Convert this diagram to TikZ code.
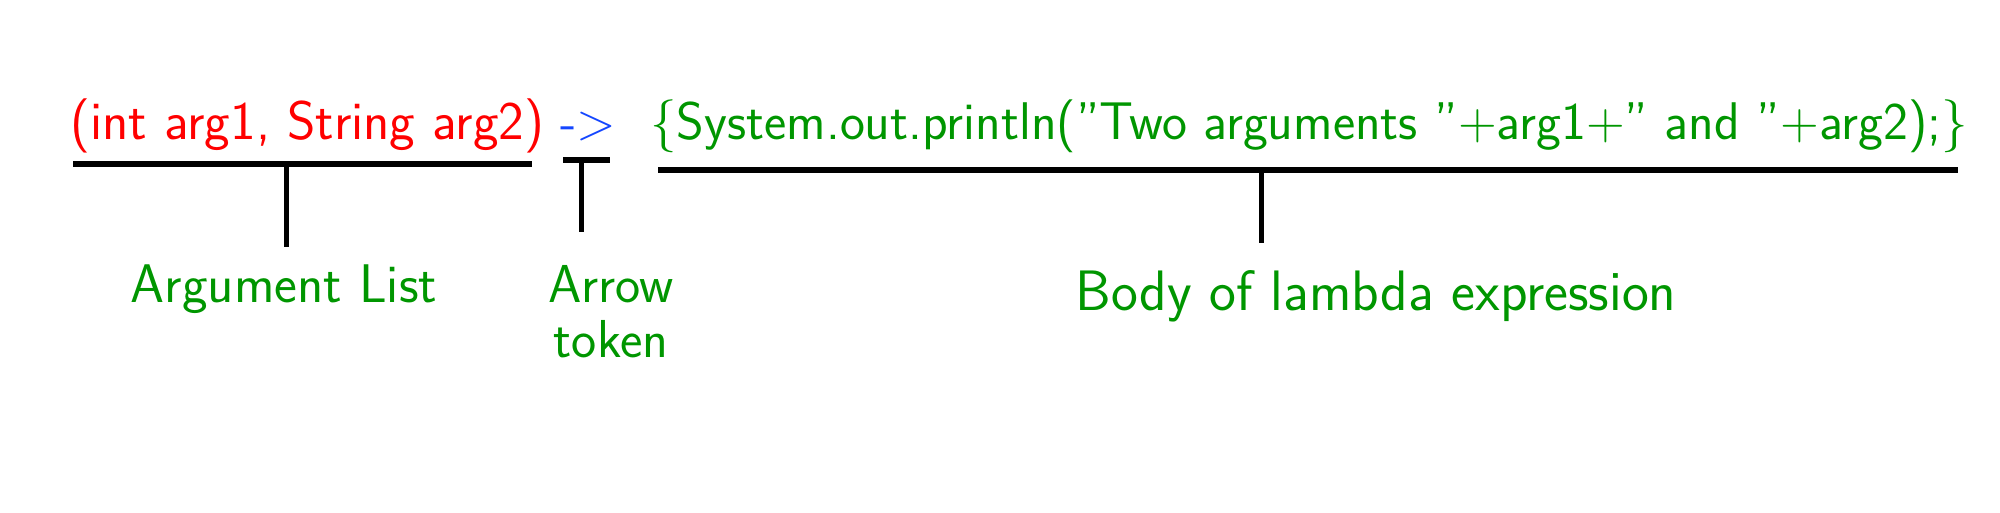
\documentclass[tikz,border=0pt]{standalone}
\usepackage{fontspec}
\usepackage{tikz}
\definecolor{argred}{RGB}{255,0,0}
\definecolor{tokenblue}{RGB}{20,70,255}
\definecolor{bodygreen}{RGB}{0,150,0}
\begin{document}
\begin{tikzpicture}[x=0.5pt, y=-0.5pt, codetext/.style={font=\sffamily\fontsize{#1}{30}\selectfont, inner sep=0pt, anchor=base west}, labeltext/.style={font=\sffamily\fontsize{#1}{27.5}\selectfont, text=bodygreen, inner sep=0pt, anchor=base, align=center}, underline/.style={line width=3pt}, stem/.style={line width=2.5pt}]
\useasboundingbox (0,0) rectangle (2000,513);
\node[codetext=27.2, text=argred] (args) at (70,140) {(int arg1, String arg2)};
\node[codetext=26, text=tokenblue] (token) at (560,140) {->};
\node[codetext=26.5, text=bodygreen] (body) at (650,140) {\{System.out.println(”Two arguments ”+arg1+” and ”+arg2);\}};
\node[labeltext=27.2] (arglabel) at (284,302) {Argument List};
\node[labeltext=26.7] (tokenlabel) at (611,357) {Arrow\\token};
\node[labeltext=28.5] (bodylabel) at (1376,310) {Body of lambda expression};
\coordinate (argleft) at (73,164);
\coordinate (argright) at (532,164);
\coordinate (argtop) at (286,164);
\coordinate (argfoot) at (286,247);
\coordinate (tokenleft) at (563,160);
\coordinate (tokenright) at (610,160);
\coordinate (tokentop) at (581,160);
\coordinate (tokenfoot) at (581,232);
\coordinate (bodyleft) at (658,170);
\coordinate (bodyright) at (1958,170);
\coordinate (bodytop) at (1261,170);
\coordinate (bodyfoot) at (1261,243);
\draw[underline] (argleft) -- (argright);
\draw[stem] (argtop) -- (argfoot);
\draw[underline] (tokenleft) -- (tokenright);
\draw[stem] (tokentop) -- (tokenfoot);
\draw[underline] (bodyleft) -- (bodyright);
\draw[stem] (bodytop) -- (bodyfoot);
\end{tikzpicture}
\end{document}
